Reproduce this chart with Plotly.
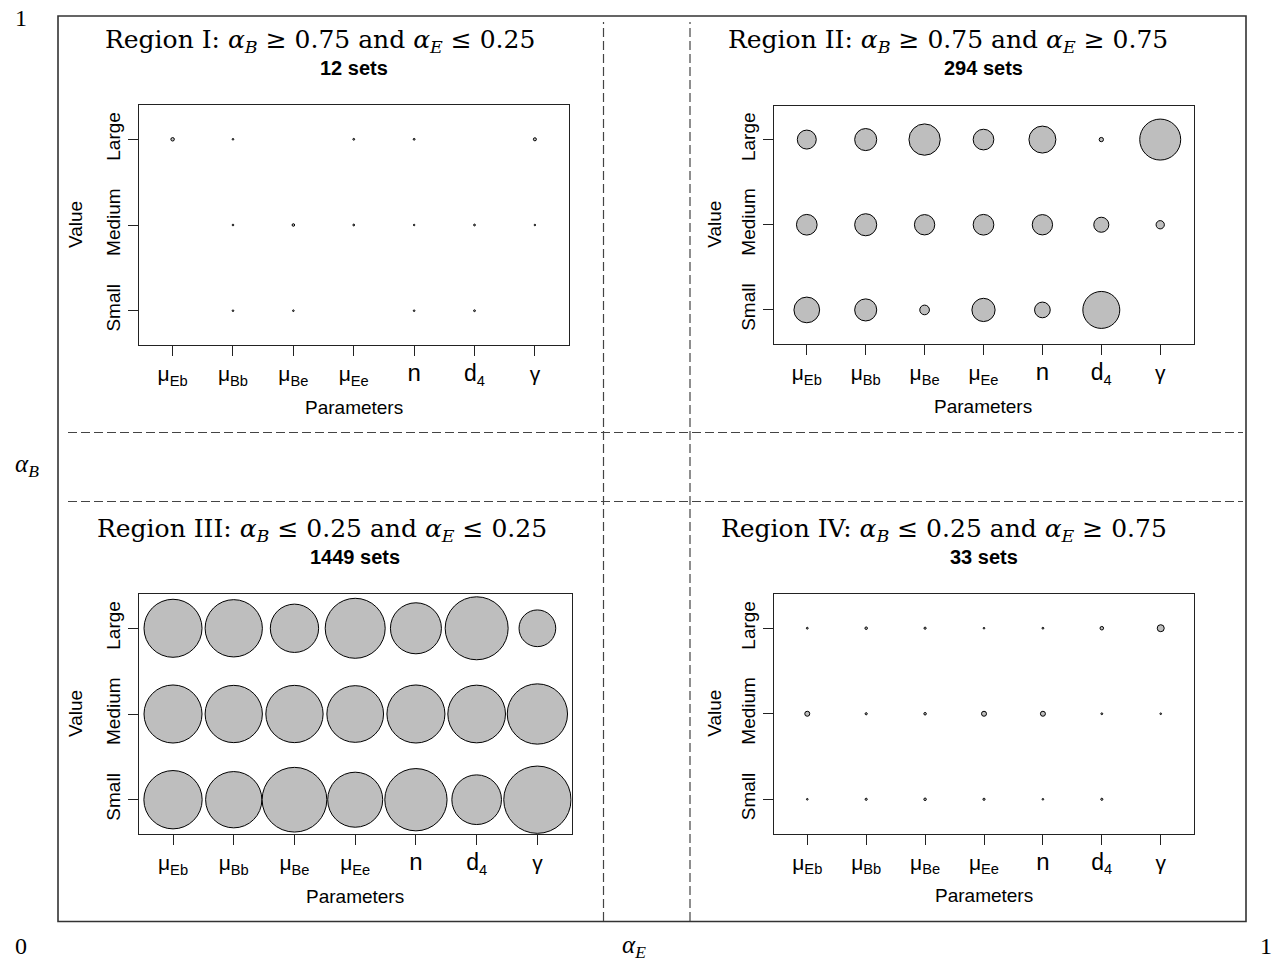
import plotly.graph_objects as go

W, H = 1278, 964

# Parameter names (x categories) and value classes (y categories)
params = ["μ<sub>Eb</sub>", "μ<sub>Bb</sub>", "μ<sub>Be</sub>", "μ<sub>Ee</sub>",
          "<span style='font-size:24px'>n</span>",
          "<span style='font-size:23px'>d</span><sub>4</sub>", "γ"]
levels = ["Small", "Medium", "Large"]

# Bubble weights (area-proportional) per parameter, for each value class.
# None marks an empty cell.
r1_small = [None, 0.4, 0.4, None, 0.4, 0.5, None]
r1_medium = [None, 0.4, 1.0, 0.5, 0.35, 0.5, 0.35]
r1_large = [1.8, 0.4, None, 0.5, 0.5, None, 1.4]

r2_small = [99, 73, 14, 81, 37, 205, None]
r2_medium = [64, 73, 62, 64, 62, 34, 10.3]
r2_large = [54, 73, 147, 64, 109, 2.8, 252]

r3_small = [510, 475, 628, 454, 582, 370, 679]
r3_medium = [505, 492, 492, 482, 505, 499, 545]
r3_large = [505, 492, 350, 540, 390, 595, 202]

r4_small = [0.4, 0.7, 0.95, 0.7, 0.4, 0.7, None]
r4_medium = [3.75, 0.7, 0.95, 3.75, 3.75, 0.5, 0.4]
r4_large = [0.5, 0.95, 0.7, 0.4, 0.5, 1.85, 7.35]

titles = [
    "Region I: <i>α<sub>B</sub></i> ≥ 0.75 and <i>α<sub>E</sub></i> ≤ 0.25",
    "Region II: <i>α<sub>B</sub></i> ≥ 0.75 and <i>α<sub>E</sub></i> ≥ 0.75",
    "Region III: <i>α<sub>B</sub></i> ≤ 0.25 and <i>α<sub>E</sub></i> ≤ 0.25",
    "Region IV: <i>α<sub>B</sub></i> ≤ 0.25 and <i>α<sub>E</sub></i> ≥ 0.75",
]
set_counts = ["12 sets", "294 sets", "1449 sets", "33 sets"]

regions = [
    (r1_small, r1_medium, r1_large),
    (r2_small, r2_medium, r2_large),
    (r3_small, r3_medium, r3_large),
    (r4_small, r4_medium, r4_large),
]

# pixel geometry of each panel: plot box (left, right, top, bottom),
# title centre x, subtitle/axis-title centre x, value-label x, title y
panels = [
    dict(box=(138.5, 569, 105, 345), tx=320, sx=353.5, vx=75, ty=41),
    dict(box=(773.5, 1193.5, 105.5, 344), tx=948, sx=983.5, vx=715, ty=41),
    dict(box=(138.7, 571.7, 594, 834), tx=322, sx=355, vx=75, ty=530),
    dict(box=(774, 1194, 594, 833.5), tx=944, sx=984, vx=715, ty=530),
]

K = 0.15  # weight per squared pixel of bubble diameter
SANS = "Liberation Sans, Arial, sans-serif"
SERIF = "DejaVu Serif, serif"
SERIF2 = "Liberation Serif, Times New Roman, serif"


def px(x):
    return x / W


def py(y):
    return 1 - y / H


fig = go.Figure()
annotations = []
xpos = list(range(1, len(params) + 1))
ypos = list(range(1, len(levels) + 1))

for i, (vals, p) in enumerate(zip(regions, panels)):
    n = i + 1
    xa = "x" if n == 1 else f"x{n}"
    ya = "y" if n == 1 else f"y{n}"
    xs, ys, ss = [], [], []
    for yv, row in zip(ypos, vals):
        for xv, v in zip(xpos, row):
            if v is None:
                continue
            xs.append(xv)
            ys.append(yv)
            ss.append(v)
    fig.add_trace(go.Scatter(
        x=xs, y=ys, mode="markers", xaxis=xa, yaxis=ya,
        marker=dict(size=ss, sizemode="area", sizeref=2 * K, sizemin=0,
                    opacity=1, color="#BEBEBE",
                    line=dict(color="black", width=1)),
        showlegend=False, hoverinfo="skip", cliponaxis=True,
    ))
    l, r, t, b = p["box"]
    axkey = "xaxis" if n == 1 else f"xaxis{n}"
    aykey = "yaxis" if n == 1 else f"yaxis{n}"
    fig.layout[axkey] = dict(
        domain=[px(l), px(r)], anchor=ya,
        tickmode="array", tickvals=xpos, ticktext=params,
        range=[0.435, 7.565], showgrid=False, zeroline=False,
        showline=True, mirror=True, linecolor="#222", linewidth=1,
        ticks="outside", ticklen=10, tickcolor="#222", tickwidth=1,
        tickfont=dict(family=SANS, size=21, color="black"),
        fixedrange=True,
    )
    fig.layout[aykey] = dict(
        domain=[py(b), py(t)], anchor=xa,
        tickmode="array", tickvals=ypos, ticktext=levels,
        range=[0.6, 3.4], showgrid=False, zeroline=False,
        showline=True, mirror=True, linecolor="#222", linewidth=1,
        ticks="outside", ticklen=10, tickcolor="#222", tickwidth=1,
        tickangle=-90,
        tickfont=dict(family=SANS, size=19, color="black"),
        fixedrange=True,
    )
    # region title and set count
    annotations.append(dict(
        text=titles[i], x=px(p["tx"]), y=py(p["ty"]), xref="paper", yref="paper",
        xanchor="center", yanchor="middle", showarrow=False,
        font=dict(family=SERIF, size=25, color="black"),
    ))
    annotations.append(dict(
        text=f"<b>{set_counts[i]}</b>", x=px(p["sx"]), y=py(p["ty"] + 27),
        xref="paper", yref="paper", xanchor="center", yanchor="middle",
        showarrow=False, font=dict(family=SANS, size=20, color="black"),
    ))
    # axis titles
    annotations.append(dict(
        text="Parameters", x=px(p["sx"]), y=py(b + 62), xref="paper", yref="paper",
        xanchor="center", yanchor="middle", showarrow=False,
        font=dict(family=SANS, size=19, color="black"),
    ))
    annotations.append(dict(
        text="Value", x=px(p["vx"]), y=py((t + b) / 2), xref="paper", yref="paper",
        xanchor="center", yanchor="middle", showarrow=False, textangle=-90,
        font=dict(family=SANS, size=19, color="black"),
    ))

# outer α_B / α_E axis labels and corner values
corner = [("1", 21, 18, 24), ("0", 21, 946, 24), ("1", 1266, 946, 24),
          ("<i>α<sub>E</sub></i>", 634, 946, 25), ("<i>α<sub>B</sub></i>", 27, 465, 25)]
for txt, x, y, fs in corner:
    annotations.append(dict(
        text=txt, x=px(x), y=py(y), xref="paper", yref="paper",
        xanchor="center", yanchor="middle", showarrow=False,
        font=dict(family=SERIF2, size=fs, color="black"),
    ))

shapes = [
    dict(type="rect", xref="paper", yref="paper", x0=px(58), x1=px(1246),
         y0=py(921.5), y1=py(16), line=dict(color="#333", width=1.6)),
]
dash = dict(color="#444", width=1.2, dash="9px,4px")
for x in (603.5, 690):
    shapes.append(dict(type="line", xref="paper", yref="paper",
                       x0=px(x), x1=px(x), y0=py(921), y1=py(22), line=dash))
for y in (432.5, 501.5):
    shapes.append(dict(type="line", xref="paper", yref="paper",
                       x0=px(68), x1=px(1243), y0=py(y), y1=py(y), line=dash))

fig.update_layout(
    width=W, height=H, margin=dict(l=0, r=0, t=0, b=0),
    paper_bgcolor="white", plot_bgcolor="white",
    annotations=annotations, shapes=shapes,
)

fig.write_html("out.html")
